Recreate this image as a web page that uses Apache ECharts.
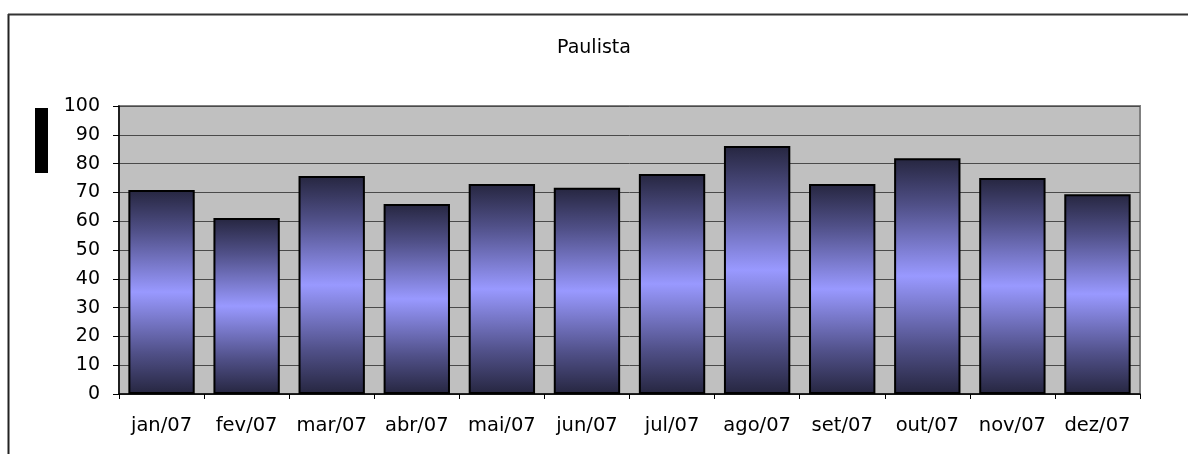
<!DOCTYPE html>
<html>
<head>
<meta charset="utf-8">
<script src="https://cdn.jsdelivr.net/npm/echarts@6/dist/echarts.min.js"></script>
<style>
html,body{margin:0;padding:0;background:#fff;}
#chart{width:1188px;height:454px;}
</style>
</head>
<body>
<div id="chart"></div>
<script>
const title = 'Paulista';
const categories = ['jan/07','fev/07','mar/07','abr/07','mai/07','jun/07','jul/07','ago/07','set/07','out/07','nov/07','dez/07'];
const values = [70.8, 61.1, 75.7, 66.0, 72.9, 71.6, 76.4, 86.1, 72.9, 81.9, 75.0, 69.4];
const yTicks = {min: 0, max: 100, interval: 10};

const chart = echarts.init(document.getElementById('chart'));
const font = 'Verdana, "DejaVu Sans", sans-serif';
chart.setOption({
  animation: false,
  title: {
    text: title, left: 'center', top: 34,
    textStyle: {fontFamily: font, fontSize: 19, fontWeight: 'normal', color: '#000'}
  },
  grid: {
    left: 119, right: 48, top: 106, bottom: 60,
    show: true, backgroundColor: '#c0c0c0', borderColor: '#808080', borderWidth: 2
  },
  xAxis: {
    type: 'category', data: categories,
    axisLine: {lineStyle: {color: '#000', width: 1.5}},
    axisTick: {show: true, interval: 0, alignWithLabel: false, length: 5, lineStyle: {color: '#000'}},
    axisLabel: {interval: 0, fontFamily: font, fontSize: 19.5, color: '#000', margin: 22}
  },
  yAxis: {
    type: 'value', min: yTicks.min, max: yTicks.max, interval: yTicks.interval,
    axisLine: {show: true, lineStyle: {color: '#000', width: 1.5}},
    axisTick: {show: true, length: 6, lineStyle: {color: '#000'}},
    axisLabel: {fontFamily: font, fontSize: 19, color: '#000', margin: 19},
    splitLine: {lineStyle: {color: '#4a4a4a', width: 1}}
  },
  series: [{
    type: 'bar', data: values, barCategoryGap: '22%',
    itemStyle: {
      borderColor: '#000', borderWidth: 2,
      color: new echarts.graphic.LinearGradient(0, 0, 0, 1, [
        {offset: 0, color: '#262640'},
        {offset: 0.2, color: '#505088'},
        {offset: 0.5, color: '#9999ff'},
        {offset: 0.8, color: '#505088'},
        {offset: 1, color: '#262640'}
      ])
    }
  }],
  graphic: [
    {type: 'rect', shape: {x: 35, y: 108, width: 13, height: 65}, style: {fill: '#000'}},
    {type: 'line', shape: {x1: 8.5, y1: 14, x2: 8.5, y2: 454}, style: {stroke: '#222', lineWidth: 2}},
    {type: 'line', shape: {x1: 8, y1: 14.5, x2: 1188, y2: 14.5}, style: {stroke: '#333', lineWidth: 2}}
  ]
});
</script>
</body>
</html>
